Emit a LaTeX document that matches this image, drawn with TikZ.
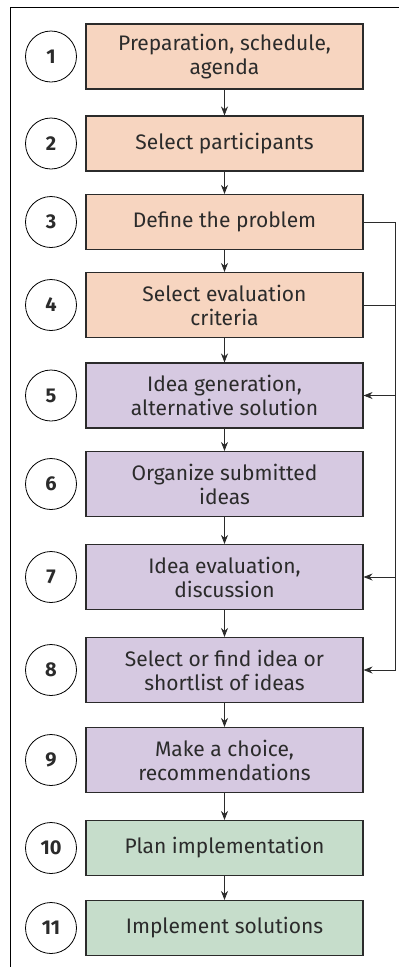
\documentclass[tikz,border=0pt]{standalone}
\usepackage{fontspec}
\setmainfont{Fira Sans}
\usetikzlibrary{arrows.meta}
\definecolor{prep}{HTML}{F7D5C0}
\definecolor{idea}{HTML}{D6C9E1}
\definecolor{impl}{HTML}{C6DDCB}
\definecolor{ink}{HTML}{2B2B2B}

\begin{document}
\begin{tikzpicture}[x=1pt,y=-1pt,
  every node/.style={font=\fontsize{21}{24}\selectfont,text=ink},
  stepbox/.style={draw=ink,line width=1.1pt,minimum width=277pt,align=center,inner sep=0pt},
  onebox/.style={stepbox,minimum height=55pt},
  twobox/.style={stepbox,minimum height=65pt},
  num/.style={draw=black,line width=0.8pt,circle,minimum size=51pt,inner sep=0pt,font=\fontsize{20}{20}\selectfont\bfseries},
  flow/.style={draw=ink,line width=0.8pt,-{Stealth[length=9pt,width=7pt]}}]
\useasboundingbox (0,0) rectangle (399,967);
\draw[line width=0.8pt] (10,967)--(10,7)--(399,7);
\node[num] (n1) at (51,56.5) {1};
\node[twobox,fill=prep] (b1) at (224.5,56.5) {Preparation, schedule,\\agenda};
\node[num] (n2) at (51,143.5) {2};
\node[onebox,fill=prep] (b2) at (224.5,143.5) {Select participants};
\node[num] (n3) at (51,222) {3};
\node[onebox,fill=prep] (b3) at (224.5,222) {Define the problem};
\node[num] (n4) at (51,305) {4};
\node[twobox,fill=prep] (b4) at (224.5,305) {Select evaluation\\criteria};
\node[num] (n5) at (51,395.5) {5};
\node[twobox,fill=idea] (b5) at (224.5,395.5) {Idea generation,\\alternative solution};
\node[num] (n6) at (51,484) {6};
\node[twobox,fill=idea] (b6) at (224.5,484) {Organize submitted\\ideas};
\node[num] (n7) at (51,577) {7};
\node[twobox,fill=idea] (b7) at (224.5,577) {Idea evaluation,\\discussion};
\node[num] (n8) at (51,670) {8};
\node[twobox,fill=idea] (b8) at (224.5,670) {Select or find idea or\\shortlist of ideas};
\node[num] (n9) at (51,760) {9};
\node[twobox,fill=idea] (b9) at (224.5,760) {Make a choice,\\recommendations};
\node[num] (n10) at (51,848) {10};
\node[onebox,fill=impl] (b10) at (224.5,848) {Plan implementation};
\node[num] (n11) at (51,928) {11};
\node[onebox,fill=impl] (b11) at (224.5,928) {Implement solutions};
% main flow
\draw[flow] (b1)--(b2);
\draw[flow] (b2)--(b3);
\draw[flow] (b3)--(b4);
\draw[flow] (b4)--(b5);
\draw[flow] (b5)--(b6);
\draw[flow] (b6)--(b7);
\draw[flow] (b7)--(b8);
\draw[flow] (b8)--(b9);
\draw[flow] (b9)--(b10);
\draw[flow] (b10)--(b11);
% feedback rail
\coordinate (rail) at (395,0);
\draw[flow] (b3.east)--(b3.east-|rail)--(b8.east-|rail)--(b8.east);
\draw[draw=ink,line width=0.8pt] (b4.east)--(b4.east-|rail);
\draw[flow] (b5.east-|rail)--(b5.east);
\draw[flow] (b7.east-|rail)--(b7.east);
\end{tikzpicture}
\end{document}
